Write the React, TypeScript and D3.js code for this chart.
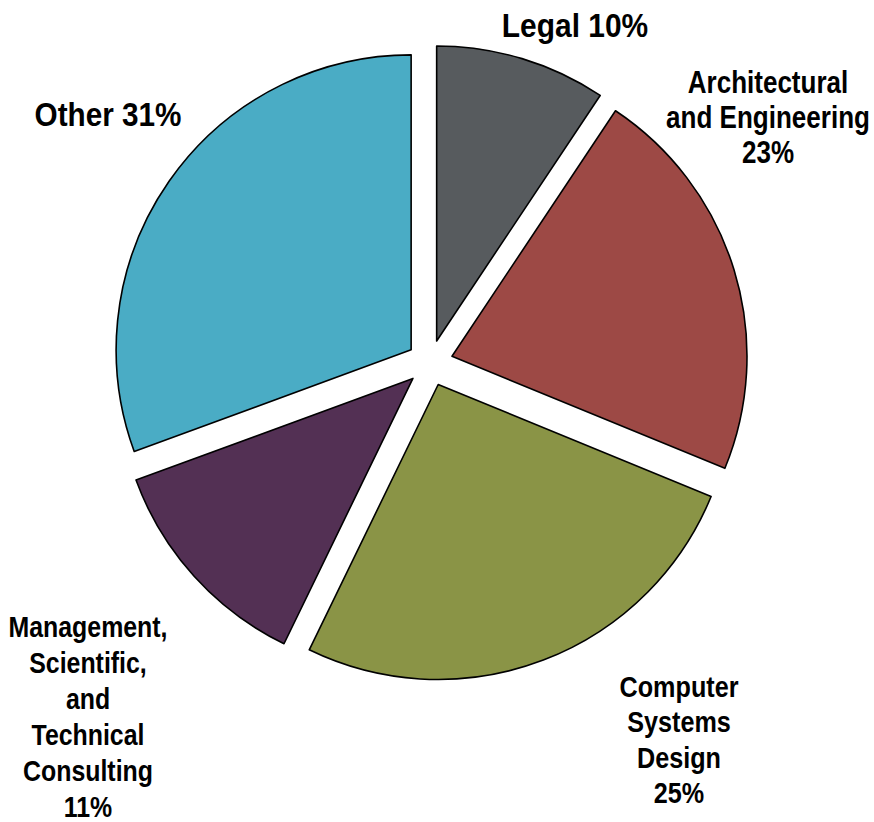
import React from 'react';
import * as d3 from 'd3';

const width = 874;
const height = 822;
const cx = 430;
const cy = 363;
const radius = 295;
const explode = 23;

const categories = ['Legal', 'Architectural and Engineering', 'Computer Systems Design', 'Management, Scientific, and Technical Consulting', 'Other'];
// slice sizes as drawn in the picture (the printed labels are rounded differently)
const shares = [9.35, 21.85, 26.0, 12.2, 30.6];
const colors = ['#575B5E', '#9D4945', '#8A9446', '#533054', '#4AACC5'];

// label lines, position and size per slice
const labelLines = [
  ['Legal 10%'],
  ['Architectural', 'and Engineering', '23%'],
  ['Computer', 'Systems', 'Design', '25%'],
  ['Management,', 'Scientific,', 'and', 'Technical', 'Consulting', '11%'],
  ['Other 31%'],
];
const labelPos = [
  { x: 575, y: 37, size: 34, lh: 35, sx: 0.88 },
  { x: 768, y: 93, size: 31, lh: 35, sx: 0.84 },
  { x: 679, y: 697, size: 30, lh: 35.5, sx: 0.84 },
  { x: 88, y: 637, size: 30, lh: 36, sx: 0.83 },
  { x: 108, y: 126, size: 33, lh: 35, sx: 0.9 },
];

const pie = d3.pie<number>().sort(null).value(d => d).startAngle(0).endAngle(2 * Math.PI);
const arc = d3.arc<d3.PieArcDatum<number>>().innerRadius(0).outerRadius(radius);

export default function App() {
  const arcs = pie(shares);
  return (
    <svg width={width} height={height} style={{ position: 'absolute', left: 0, top: 0, background: '#fff' }}>
      <g transform={`translate(${cx},${cy})`}>
        {arcs.map((a, i) => {
          const mid = (a.startAngle + a.endAngle) / 2;
          const dx = Math.sin(mid) * explode;
          const dy = -Math.cos(mid) * explode;
          return (
            <path key={categories[i]} d={arc(a) || ''} transform={`translate(${dx},${dy})`}
              fill={colors[i]} stroke="#000" strokeWidth={1.6} strokeLinejoin="round" />
          );
        })}
      </g>
      {labelLines.map((lines, i) => {
        const p = labelPos[i];
        return (
          <g key={i} transform={`translate(${p.x},${p.y}) scale(${p.sx},1)`}>
            <text textAnchor="middle" fontFamily="'Liberation Sans', Arial, sans-serif" fontWeight="bold" fontSize={p.size} fill="#000">
              {lines.map((l, j) => (
                <tspan key={j} x={0} y={j * p.lh}>{l}</tspan>
              ))}
            </text>
          </g>
        );
      })}
    </svg>
  );
}
